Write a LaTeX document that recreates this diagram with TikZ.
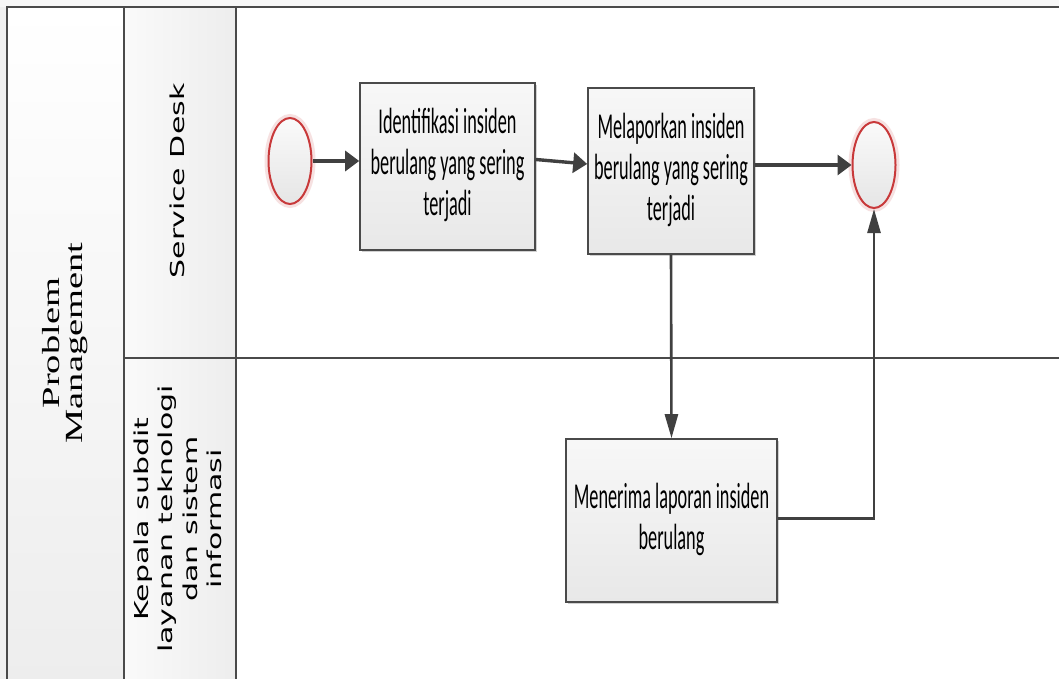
\documentclass[tikz,border=0pt]{standalone}
\usepackage{fontspec}
\setmainfont{Carlito}
\newfontfamily\lanefont{DejaVu Sans}
\newfontfamily\poolfont{Liberation Serif}
\usetikzlibrary{arrows.meta,shapes.geometric,shadows}

% narrow, tall lettering used throughout the chart
\newcommand{\narrowtext}[1]{\scalebox{0.5}[1]{\begin{tabular}{@{}c@{}}#1\end{tabular}}}
\newcommand{\upright}[1]{\scalebox{0.64}[1]{\rotatebox{90}{\begin{tabular}{@{}c@{}}#1\end{tabular}}}}

\definecolor{frame}{HTML}{4A4A4A}
\definecolor{conn}{HTML}{404040}
\definecolor{evred}{HTML}{C8393A}

\tikzset{
  task/.style={draw=frame, line width=1.6pt, inner sep=0pt,
    top color=white!97!black, bottom color=white!91!black,
    drop shadow={shadow xshift=2pt, shadow yshift=-2pt, opacity=0.18, fill=black},
    font=\fontsize{36.5}{41}\selectfont},
  event/.style={ellipse, draw=evred, line width=2pt, inner sep=0pt,
    minimum width=43pt, minimum height=86pt,
    top color=white!98!black, bottom color=white!90!black},
  glow/.style={ellipse, draw=evred!30, line width=5pt, opacity=0.5,
    minimum width=46pt, minimum height=89pt},
  harrow/.style={draw=conn, line width=3.4pt,
    -{Triangle[length=14pt, width=20pt]}},
  varrow/.style={draw=conn, line width=2.6pt,
    -{Triangle[length=24pt, width=13pt]}},
  lane/.style={draw=frame, line width=1.7pt},
  lanelabel/.style={inner sep=0pt, font=\lanefont\fontsize{30}{38}\selectfont},
}

\begin{document}
\begin{tikzpicture}[x=1pt, y=-1pt]
  \useasboundingbox (0,0) rectangle (1059,679);
  \fill[white] (0,0) rectangle (1059,679);
  \fill[black!6] (0,0) rectangle (7,679);
  \fill[black!3] (0,0) rectangle (1059,7);

  % pool and lane header bands
  \shade[top color=white, bottom color=black!7] (7,7) rectangle (124,679);
  \shade[left color=black!2, right color=black!7] (124,7) rectangle (236,679);

  % swimlane frame
  \draw[lane] (7,679) -- (7,7) -- (1059,7);
  \draw[lane] (124,7) -- (124,679);
  \draw[lane] (236,7) -- (236,679);
  \draw[lane] (124,358) -- (1059,358);

  % headers
  \node[inner sep=0pt, font=\poolfont\fontsize{38.5}{37}\selectfont] (pool) at (66,343)
    {\upright{Problem\\Management}};
  \node[lanelabel] (sd) at (180,181) {\upright{Service Desk}};
  \node[lanelabel] (ka) at (180,519)
    {\upright{Kepala subdit\\layanan teknologi\\dan sistem\\informasi}};

  % events
  \node[glow] at (290,161) {};
  \node[event] (start) at (290,161) {};
  \node[glow] at (874,165) {};
  \node[event] (end) at (874,165) {};

  % tasks
  \node[task, minimum width=175pt, minimum height=167pt] (t1) at (447.5,166.5)
    {\narrowtext{Identifikasi insiden\\berulang yang sering\\terjadi}};
  \node[task, minimum width=166pt, minimum height=166pt] (t2) at (671,171)
    {\narrowtext{Melaporkan insiden\\berulang yang sering\\terjadi}};
  \node[task, minimum width=211pt, minimum height=163pt] (t3) at (671.5,520.5)
    {\narrowtext{Menerima laporan insiden\\berulang}};

  % sequence flows
  \draw[harrow] (start.east) -- (t1.west |- start.east);
  \draw[harrow] ([yshift=7pt]t1.east) -- ([yshift=7pt]t2.west);
  \draw[harrow] (t2.east |- end.west) -- (end.west);
  \draw[varrow] (t2.south) -- (t3.north);
  \coordinate (bend) at (t3.east -| end.south);
  \draw[varrow] ([yshift=2pt]t3.east) -- ([yshift=2pt]bend) -- (end.south);
\end{tikzpicture}
\end{document}
